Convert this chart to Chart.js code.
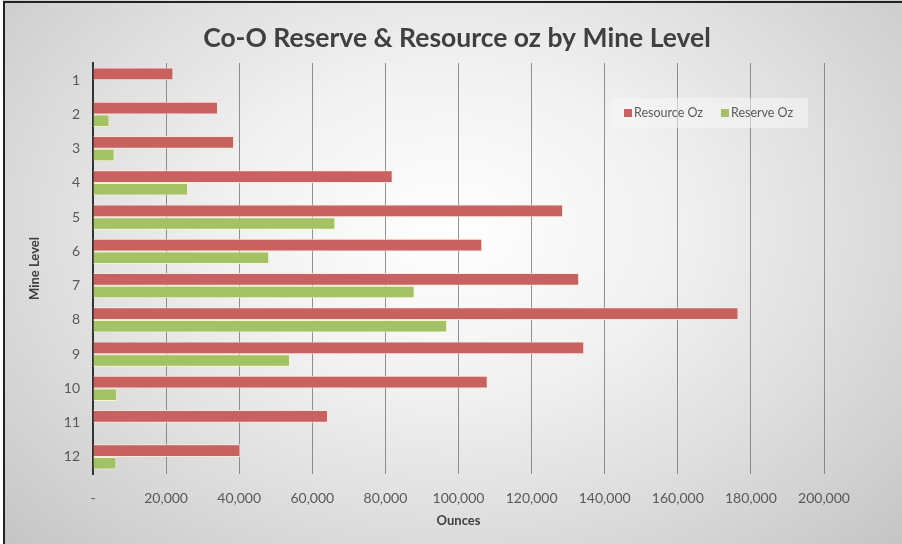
<!DOCTYPE html>
<html>
<head>
<meta charset="utf-8">
<script src="https://cdn.jsdelivr.net/npm/chart.js@4"></script>
<style>
  html, body { margin: 0; padding: 0; background: #fff; }
  #wrap {
    position: relative; width: 902px; height: 544px;
    background: radial-gradient(ellipse 70% 85% at 50% 42%, #ffffff 0%, #f1f1f1 35%, #dddddd 65%, #c4c4c4 100%);
  }
</style>
</head>
<body>
<div id="wrap"><canvas id="mineChart" width="902" height="544"></canvas></div>
<script>
const chartTitle = "Co-O Reserve & Resource oz by Mine Level";
const levels = ["1", "2", "3", "4", "5", "6", "7", "8", "9", "10", "11", "12"];
const resourceOz = [22000, 34200, 38600, 82000, 128600, 106500, 133000, 176600, 134400, 108000, 64300, 40300];
const reserveOz = [0, 4500, 5900, 26000, 66300, 48200, 88000, 96900, 53900, 6600, 0, 6400];
const xTicks = [0, 20000, 40000, 60000, 80000, 100000, 120000, 140000, 160000, 180000, 200000];

// タイトル・枠線・凡例（プロット内の右上）を自前で描く
const framePlugin = {
  id: "frame",
  afterDraw(chart) {
    const ctx = chart.ctx;
    ctx.save();
    ctx.fillStyle = "#fff";
    ctx.fillRect(0, 0, 3, 544);
    ctx.strokeStyle = "#222";
    ctx.lineWidth = 2;
    ctx.beginPath();
    ctx.moveTo(4, 544);
    ctx.lineTo(4, 2);
    ctx.lineTo(902, 2);
    ctx.stroke();

    ctx.fillStyle = "#404040";
    ctx.font = "bold 26.5px Lato";
    ctx.textAlign = "center";
    ctx.textBaseline = "middle";
    ctx.fillText(chartTitle, 457, 38);

    // 凡例
    ctx.textAlign = "left";
    ctx.fillStyle = "rgba(248,248,248,0.55)";
    ctx.fillRect(612, 98, 196, 30);
    ctx.font = "12.5px Lato";
    let x = 624;
    chart.data.datasets.forEach(ds => {
      ctx.fillStyle = ds.backgroundColor;
      ctx.fillRect(x, 109, 8, 8);
      x += 10;
      ctx.fillStyle = "#595959";
      ctx.fillText(ds.label, x, 113);
      x += ctx.measureText(ds.label).width + 18;
    });
    ctx.restore();
  }
};

new Chart(document.getElementById("mineChart"), {
  type: "bar",
  data: {
    labels: levels,
    datasets: [
      { label: "Resource Oz", data: resourceOz, backgroundColor: "#C86260", borderColor: "rgba(255,232,215,0.9)", borderWidth: 1 },
      { label: "Reserve Oz", data: reserveOz, backgroundColor: "#A2C265", borderColor: "rgba(250,245,200,0.9)", borderWidth: 1 }
    ]
  },
  options: {
    indexAxis: "y",
    responsive: false,
    animation: false,
    layout: { padding: { top: 63, right: 78, left: 0, bottom: 0 } },
    datasets: { bar: { categoryPercentage: 0.74, barPercentage: 1 } },
    plugins: {
      legend: { display: false },
      tooltip: { enabled: false },
      title: { display: false }
    },
    scales: {
      x: {
        min: 0,
        max: 200000,
        afterBuildTicks: axis => { axis.ticks = xTicks.map(v => ({ value: v })); },
        afterFit: axis => { axis.height = 70; },
        grid: { color: "rgba(110,110,110,0.75)", drawTicks: false },
        border: { display: false },
        ticks: {
          padding: 16,
          color: "#595959",
          font: { family: "Lato", size: 14 },
          callback: v => v === 0 ? "-" : v.toLocaleString("en-US")
        },
        title: {
          display: true, text: "Ounces", color: "#404040",
          font: { family: "Lato", size: 13, weight: "bold" },
          padding: { top: 15, bottom: 15 }
        }
      },
      y: {
        afterFit: axis => { axis.width = 93; },
        grid: { display: false, drawTicks: false },
        border: { display: true, color: "#333", width: 2 },
        ticks: { padding: 13, color: "#595959", font: { family: "Lato", size: 14 } },
        title: {
          display: true, text: "Mine Level", color: "#404040",
          font: { family: "Lato", size: 13, weight: "bold" },
          padding: { top: 27, bottom: 0 }
        }
      }
    }
  },
  plugins: [framePlugin]
});
</script>
</body>
</html>
